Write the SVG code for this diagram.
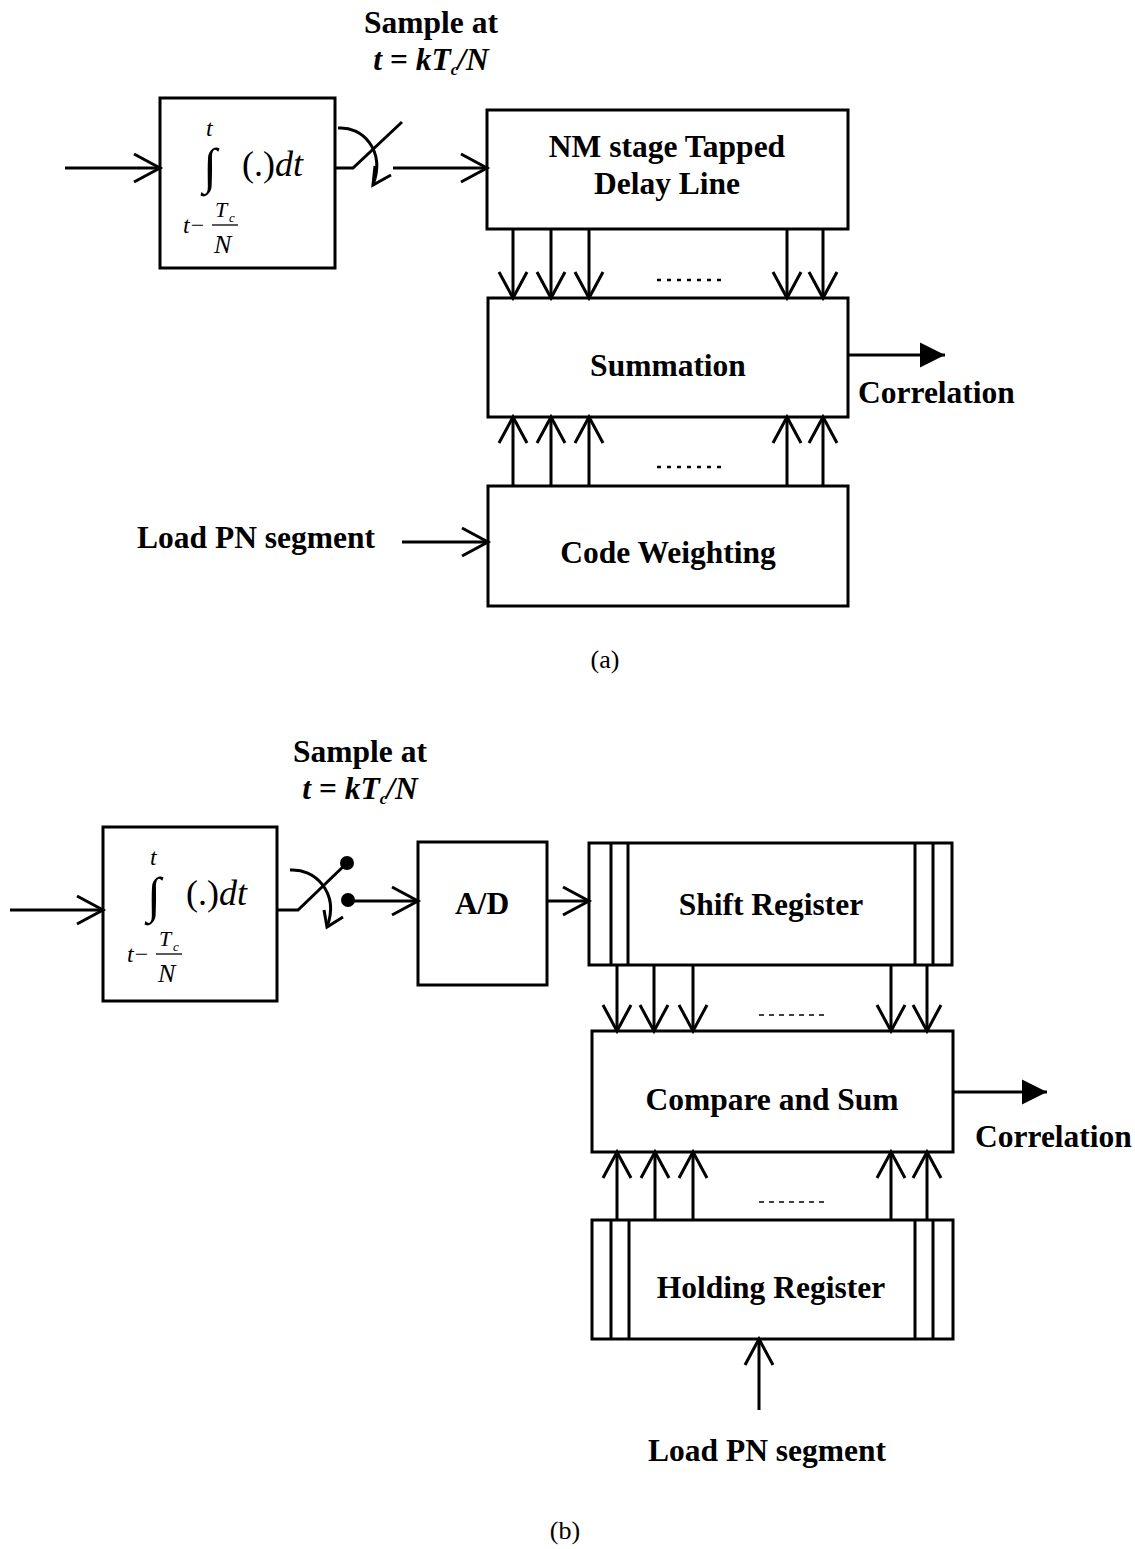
<svg xmlns="http://www.w3.org/2000/svg" width="1135" height="1549" viewBox="0 0 1135 1549">
<style>
  .box { fill: #fff; stroke: #000; stroke-width: 3; }
  .ln { fill: none; stroke: #000; stroke-width: 3; }
  .thin { fill: none; stroke: #000; stroke-width: 1.3; }
  .lbl { font-family: "Liberation Serif", "Times New Roman", serif; font-weight: bold; font-size: 31.5px; fill: #000; }
  .m { font-family: "Liberation Serif", "Times New Roman", serif; fill: #000; }
  .i { font-style: italic; }
  .cap { font-family: "Liberation Serif", "Times New Roman", serif; font-size: 26px; fill: #000; }
  .dotsA { fill: none; stroke: #000; stroke-width: 2.5; stroke-dasharray: 4 6; }
  .dotsB { fill: none; stroke: #000; stroke-width: 1.5; stroke-dasharray: 5 5; }
</style>
<defs>
  <marker id="open" markerUnits="userSpaceOnUse" viewBox="-30 -18 34 36" markerWidth="34" markerHeight="36" refX="0" refY="0" orient="auto">
    <path d="M-26,-14 L0,0 L-26,14" fill="none" stroke="#000" stroke-width="3"/>
  </marker>
  <marker id="solid" markerUnits="userSpaceOnUse" viewBox="-26 -14 28 28" markerWidth="28" markerHeight="28" refX="0" refY="0" orient="auto">
    <path d="M-25,-12.5 L0,0 L-25,12.5 Z" fill="#000"/>
  </marker>
</defs>

<!-- ================= (a) ================= -->
<g id="sample-a">
  <text class="lbl" x="431" y="33" text-anchor="middle">Sample at</text>
  <text class="lbl" x="431" y="70" text-anchor="middle"><tspan class="i">t</tspan> = <tspan class="i">kT</tspan><tspan class="i" font-size="17" dy="5">c</tspan><tspan class="i" dy="-5" dx="-1">/N</tspan></text>
</g>

<g id="integrator-a">
  <rect class="box" x="160" y="98" width="175" height="170"/>
  <text class="m i" x="206" y="136" font-size="24">t</text>
  <text class="m" x="203" y="183" font-size="50">∫</text>
  <text class="m" x="242" y="176" font-size="36">(.)<tspan class="i">dt</tspan></text>
  <text class="m" x="183" y="233" font-size="24"><tspan class="i">t</tspan><tspan dx="1">−</tspan></text>
  <text class="m i" x="215" y="217" font-size="22">T</text>
  <text class="m i" x="229" y="222" font-size="13">c</text>
  <line class="thin" x1="212" y1="225" x2="238" y2="225"/>
  <text class="m i" x="214" y="253" font-size="26">N</text>
</g>

<g id="switch-a">
  <polyline class="ln" points="335,168 353,168 402,122"/>
  <path class="ln" d="M338,128 C362,126 386,150 373,185"/>
  <polyline class="ln" points="375,166 373,185 391,175"/>
</g>

<g id="nm-delay-line">
  <rect class="box" x="487" y="110" width="361" height="119"/>
  <text class="lbl" x="667" y="157" text-anchor="middle">NM stage Tapped</text>
  <text class="lbl" x="667" y="194" text-anchor="middle">Delay Line</text>
</g>

<g id="summation">
  <rect class="box" x="488" y="298" width="360" height="119"/>
  <text class="lbl" x="668" y="376" text-anchor="middle">Summation</text>
</g>

<g id="code-weighting">
  <rect class="box" x="488" y="486" width="360" height="120"/>
  <text class="lbl" x="668" y="563" text-anchor="middle">Code Weighting</text>
</g>

<g id="labels-a">
  <text class="lbl" x="858" y="403">Correlation</text>
  <text class="lbl" x="137" y="548">Load PN segment</text>
  <text class="cap" x="605" y="668" text-anchor="middle">(a)</text>
</g>

<g id="connectors-a">
  <line class="ln" x1="65" y1="168" x2="160" y2="168" marker-end="url(#open)"/>
  <line class="ln" x1="393" y1="168" x2="487" y2="168" marker-end="url(#open)"/>
  <line class="ln" x1="513" y1="229" x2="513" y2="298" marker-end="url(#open)"/>
  <line class="ln" x1="551" y1="229" x2="551" y2="298" marker-end="url(#open)"/>
  <line class="ln" x1="589" y1="229" x2="589" y2="298" marker-end="url(#open)"/>
  <line class="ln" x1="787" y1="229" x2="787" y2="298" marker-end="url(#open)"/>
  <line class="ln" x1="823" y1="229" x2="823" y2="298" marker-end="url(#open)"/>
  <line class="dotsA" x1="657" y1="280" x2="727" y2="280"/>
  <line class="ln" x1="513" y1="486" x2="513" y2="417" marker-end="url(#open)"/>
  <line class="ln" x1="551" y1="486" x2="551" y2="417" marker-end="url(#open)"/>
  <line class="ln" x1="589" y1="486" x2="589" y2="417" marker-end="url(#open)"/>
  <line class="ln" x1="787" y1="486" x2="787" y2="417" marker-end="url(#open)"/>
  <line class="ln" x1="823" y1="486" x2="823" y2="417" marker-end="url(#open)"/>
  <line class="dotsA" x1="657" y1="467" x2="727" y2="467"/>
  <line class="ln" x1="848" y1="355" x2="945" y2="355" marker-end="url(#solid)"/>
  <line class="ln" x1="402" y1="542" x2="488" y2="542" marker-end="url(#open)"/>
</g>

<!-- ================= (b) ================= -->
<g id="sample-b">
  <text class="lbl" x="360" y="762" text-anchor="middle">Sample at</text>
  <text class="lbl" x="360" y="799" text-anchor="middle"><tspan class="i">t</tspan> = <tspan class="i">kT</tspan><tspan class="i" font-size="17" dy="5">c</tspan><tspan class="i" dy="-5" dx="-1">/N</tspan></text>
</g>

<g id="integrator-b">
  <rect class="box" x="103" y="827" width="174" height="174"/>
  <g transform="translate(-56,729)">
    <text class="m i" x="206" y="136" font-size="24">t</text>
    <text class="m" x="203" y="183" font-size="50">∫</text>
    <text class="m" x="242" y="176" font-size="36">(.)<tspan class="i">dt</tspan></text>
    <text class="m" x="183" y="233" font-size="24"><tspan class="i">t</tspan><tspan dx="1">−</tspan></text>
    <text class="m i" x="215" y="217" font-size="22">T</text>
    <text class="m i" x="229" y="222" font-size="13">c</text>
    <line class="thin" x1="212" y1="225" x2="238" y2="225"/>
    <text class="m i" x="214" y="253" font-size="26">N</text>
  </g>
</g>

<g id="switch-b">
  <polyline class="ln" points="277,910 298,910 347,863"/>
  <path class="ln" d="M290,870 C314,868 340,892 327,927"/>
  <polyline class="ln" points="324,910 327,927 343,917"/>
  <circle cx="347" cy="863" r="7" fill="#000"/>
  <circle cx="348" cy="900" r="7" fill="#000"/>
</g>

<g id="ad">
  <rect class="box" x="418" y="842" width="129" height="143"/>
  <text class="lbl" x="482" y="914" text-anchor="middle">A/D</text>
</g>

<g id="shift-register">
  <rect class="box" x="589" y="843" width="363" height="122"/>
  <line class="ln" x1="611" y1="843" x2="611" y2="965"/>
  <line class="ln" x1="628" y1="843" x2="628" y2="965"/>
  <line class="ln" x1="915" y1="843" x2="915" y2="965"/>
  <line class="ln" x1="933" y1="843" x2="933" y2="965"/>
  <text class="lbl" x="771" y="915" text-anchor="middle">Shift Register</text>
</g>

<g id="compare-sum">
  <rect class="box" x="592" y="1031" width="361" height="121"/>
  <text class="lbl" x="772" y="1110" text-anchor="middle">Compare and Sum</text>
</g>

<g id="holding-register">
  <rect class="box" x="592" y="1220" width="361" height="119"/>
  <line class="ln" x1="611" y1="1220" x2="611" y2="1339"/>
  <line class="ln" x1="629" y1="1220" x2="629" y2="1339"/>
  <line class="ln" x1="915" y1="1220" x2="915" y2="1339"/>
  <line class="ln" x1="933" y1="1220" x2="933" y2="1339"/>
  <text class="lbl" x="771" y="1298" text-anchor="middle">Holding Register</text>
</g>

<g id="labels-b">
  <text class="lbl" x="975" y="1147">Correlation</text>
  <text class="lbl" x="767" y="1461" text-anchor="middle">Load PN segment</text>
  <text class="cap" x="565" y="1539" text-anchor="middle">(b)</text>
</g>

<g id="connectors-b">
  <line class="ln" x1="10" y1="910" x2="103" y2="910" marker-end="url(#open)"/>
  <line class="ln" x1="348" y1="901" x2="418" y2="901" marker-end="url(#open)"/>
  <line class="ln" x1="547" y1="901" x2="589" y2="901" marker-end="url(#open)"/>
  <line class="ln" x1="617" y1="965" x2="617" y2="1031" marker-end="url(#open)"/>
  <line class="ln" x1="654" y1="965" x2="654" y2="1031" marker-end="url(#open)"/>
  <line class="ln" x1="693" y1="965" x2="693" y2="1031" marker-end="url(#open)"/>
  <line class="ln" x1="891" y1="965" x2="891" y2="1031" marker-end="url(#open)"/>
  <line class="ln" x1="927" y1="965" x2="927" y2="1031" marker-end="url(#open)"/>
  <line class="dotsB" x1="759" y1="1015" x2="829" y2="1015"/>
  <line class="ln" x1="617" y1="1220" x2="617" y2="1152" marker-end="url(#open)"/>
  <line class="ln" x1="655" y1="1220" x2="655" y2="1152" marker-end="url(#open)"/>
  <line class="ln" x1="693" y1="1220" x2="693" y2="1152" marker-end="url(#open)"/>
  <line class="ln" x1="891" y1="1220" x2="891" y2="1152" marker-end="url(#open)"/>
  <line class="ln" x1="927" y1="1220" x2="927" y2="1152" marker-end="url(#open)"/>
  <line class="dotsB" x1="759" y1="1202" x2="829" y2="1202"/>
  <line class="ln" x1="953" y1="1092" x2="1047" y2="1092" marker-end="url(#solid)"/>
  <line class="ln" x1="759" y1="1410" x2="759" y2="1339" marker-end="url(#open)"/>
</g>
</svg>
